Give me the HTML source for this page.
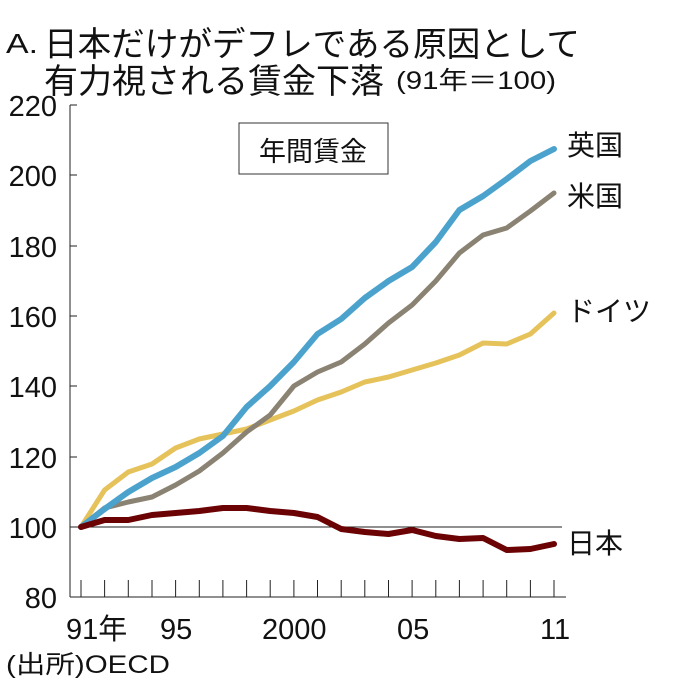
<!DOCTYPE html>
<html><head><meta charset="utf-8"><style>
body{margin:0;background:#fff}
svg text{font-family:"Liberation Sans","Noto Sans CJK JP",sans-serif;fill:#111}
</style></head><body>
<svg width="680" height="680" viewBox="0 0 680 680" xmlns="http://www.w3.org/2000/svg">
<text x="6" y="53" font-size="28" textLength="32" lengthAdjust="spacingAndGlyphs">A.</text>
<text x="44" y="56" font-size="34" textLength="536" lengthAdjust="spacingAndGlyphs">日本だけがデフレである原因として</text>
<text x="44" y="93" font-size="34" textLength="340" lengthAdjust="spacingAndGlyphs">有力視される賃金下落</text>
<text x="396" y="89" font-size="25" textLength="160" lengthAdjust="spacingAndGlyphs">(91年＝100)</text>
<g font-size="29" text-anchor="end">
<text x="57" y="116">220</text><text x="57" y="186">200</text><text x="57" y="257">180</text>
<text x="57" y="327">160</text><text x="57" y="397">140</text><text x="57" y="468">120</text>
<text x="57" y="538">100</text><text x="57" y="608">80</text>
</g>
<g stroke="#222" stroke-width="1" fill="none">
<line x1="70" y1="105" x2="70" y2="597"/>
<line x1="70" y1="105" x2="77" y2="105"/><line x1="70" y1="175" x2="77" y2="175"/><line x1="70" y1="246" x2="77" y2="246"/>
<line x1="70" y1="316" x2="77" y2="316"/><line x1="70" y1="386" x2="77" y2="386"/><line x1="70" y1="457" x2="77" y2="457"/>
<line x1="70" y1="597" x2="566" y2="597"/>
<line x1="70" y1="527" x2="562" y2="527"/>
<path d="M81 580V597M104.6 580V597M128.3 580V597M152 580V597M175.6 580V597M199.3 580V597M222.9 580V597M246.6 580V597M270.2 580V597M293.9 580V597M317.5 580V597M341.2 580V597M364.8 580V597M388.5 580V597M412.1 580V597M435.8 580V597M459.4 580V597M483.1 580V597M506.7 580V597M530.4 580V597M554 580V597"/>
</g>
<rect x="239" y="123" width="149" height="51" fill="#fff" stroke="#333" stroke-width="1"/>
<text x="313" y="161" font-size="27" text-anchor="middle">年間賃金</text>
<g font-size="29">
<text x="66" y="639">91年</text><text x="160" y="639">95</text><text x="262" y="639">2000</text>
<text x="397" y="639">05</text><text x="540" y="639">11</text>
</g>
<text x="6" y="673" font-size="25" textLength="164" lengthAdjust="spacingAndGlyphs">(出所)OECD</text>
<g fill="none" stroke-linejoin="round" stroke-linecap="round">
<polyline stroke="#e6c25a" stroke-width="5" points="81,527 104.6,490 128.3,472 152,464 175.6,448 199.3,439 222.9,434 246.6,429 270.2,420 293.9,411 317.5,400 341.2,392 364.8,382 388.5,377 412.1,370 435.8,363 459.4,355 483.1,343 506.7,344 530.4,334 554,313"/>
<polyline stroke="#8a8272" stroke-width="5" points="81,527 104.6,508 128.3,502 152,497 175.6,485 199.3,471 222.9,453 246.6,432 270.2,415 293.9,386 317.5,372 341.2,362 364.8,344 388.5,323 412.1,305 435.8,281 459.4,253 483.1,235 506.7,228 530.4,211 554,193"/>
<polyline stroke="#4ba3cd" stroke-width="6" points="81,527 104.6,509 128.3,492 152,478 175.6,467 199.3,453 222.9,436 246.6,407 270.2,386 293.9,362 317.5,334 341.2,319 364.8,298 388.5,281 412.1,267 435.8,242 459.4,210 483.1,196 506.7,179 530.4,161 554,149"/>
<polyline stroke="#6b0203" stroke-width="6" points="81,527 104.6,520 128.3,520 152,515 175.6,513 199.3,511 222.9,508 246.6,508 270.2,511 293.9,513 317.5,517 341.2,529 364.8,532 388.5,534 412.1,530 435.8,536 459.4,539 483.1,538 506.7,550 530.4,549 554,544"/>
</g>
<g font-size="28">
<text x="567" y="155">英国</text><text x="567" y="206">米国</text>
<text x="567" y="321">ドイツ</text><text x="567" y="553">日本</text>
</g>
</svg>
</body></html>
